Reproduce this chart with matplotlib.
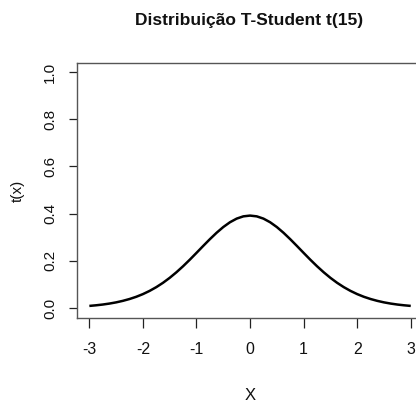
import matplotlib
matplotlib.use("Agg")
import matplotlib.pyplot as plt

# Values
x_vals = [-3.0, -2.875, -2.75, -2.625, -2.5, -2.375, -2.25, -2.125, -2.0, -1.875, -1.75, -1.625,
          -1.5, -1.375, -1.25, -1.125, -1.0, -0.875, -0.75, -0.625, -0.5, -0.375, -0.25, -0.125,
          0.0,
          0.125, 0.25, 0.375, 0.5, 0.625, 0.75, 0.875, 1.0, 1.125, 1.25, 1.375, 1.5,
          1.625, 1.75, 1.875, 2.0, 2.125, 2.25, 2.375, 2.5, 2.625, 2.75, 2.875, 3.0]
density = [0.0091, 0.0117, 0.0149, 0.0190, 0.0241, 0.0305, 0.0383, 0.0477, 0.0591, 0.0727, 0.0886, 0.1070,
           0.1280, 0.1515, 0.1772, 0.2048, 0.2337, 0.2630, 0.2917, 0.3188, 0.3431, 0.3634, 0.3788, 0.3884,
           0.3916,
           0.3884, 0.3788, 0.3634, 0.3431, 0.3188, 0.2917, 0.2630, 0.2337, 0.2048, 0.1772, 0.1515, 0.1280,
           0.1070, 0.0886, 0.0727, 0.0591, 0.0477, 0.0383, 0.0305, 0.0241, 0.0190, 0.0149, 0.0117, 0.0091]
x_ticks = [-3, -2, -1, 0, 1, 2, 3]
y_ticks = [0.0, 0.2, 0.4, 0.6, 0.8, 1.0]
y_tick_labels = ["0.0", "0.2", "0.4", "0.6", "0.8", "1.0"]

fam = "Liberation Sans"
plt.rcParams["font.family"] = [fam, "DejaVu Sans"]

W, H = 416, 403
fig = plt.figure(figsize=(W / 100, H / 100), dpi=100)
left, right, top, bottom = 76.5, 423.6, 62.5, 317.5
ax = fig.add_axes([left / W, 1 - bottom / H, (right - left) / W, (bottom - top) / H])

ax.plot(x_vals, density, color="black", lw=1.8, solid_joinstyle="round", solid_capstyle="butt")
ax.set_xlim(-3.24, 3.24)
ax.set_ylim(-0.04, 1.04)

ax.set_xticks(x_ticks)
ax.set_xticklabels([str(t) for t in x_ticks])
ax.set_yticks(y_ticks)
ax.set_yticklabels(y_tick_labels, rotation=90, va="center")

for s in ax.spines.values():
    s.set_color("#555555")
    s.set_linewidth(1.0)

ax.tick_params(axis="x", direction="out", length=7, width=0.9, color="#222222",
               labelsize=11.5, pad=11, labelcolor="#111111")
ax.tick_params(axis="y", direction="out", length=6, width=0.9, color="#222222",
               labelsize=11, pad=8, labelcolor="#111111")

fig.text(249 / W, 1 - 20 / H, "Distribuição T-Student t(15)", ha="center", va="center",
         fontsize=12.5, fontweight="bold", color="#111111")
fig.text(250 / W, 1 - 395 / H, "X", ha="center", va="center", fontsize=12, color="#111111")
fig.text(18 / W, 1 - 191 / H, "t(x)", ha="center", va="center", rotation=90,
         fontsize=11, color="#111111")

fig.savefig("out.png", dpi=100)
